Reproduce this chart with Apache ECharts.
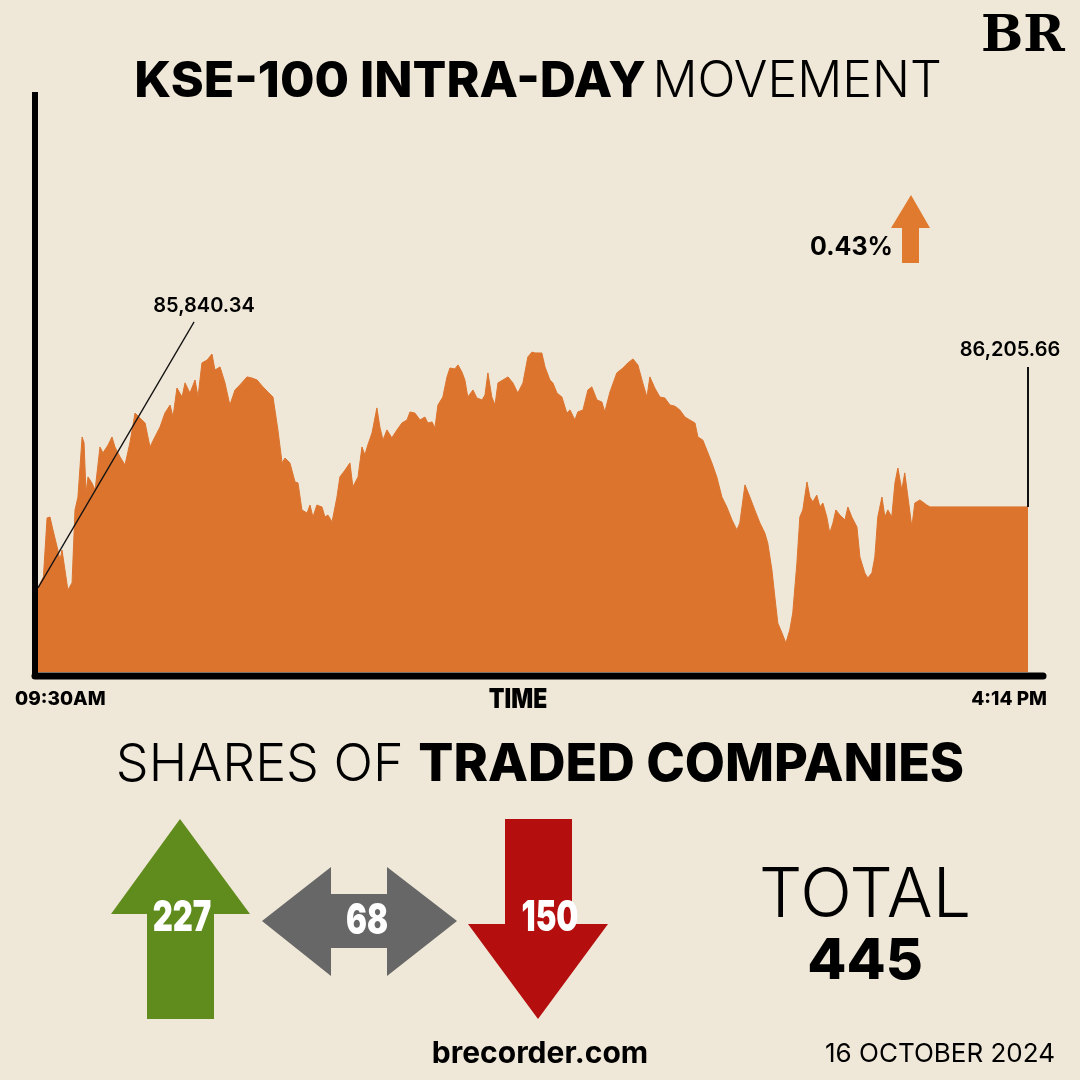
<!DOCTYPE html>
<html><head><meta charset="utf-8">
<script src="https://cdn.jsdelivr.net/npm/echarts@6/dist/echarts.min.js"></script>
<style>html,body{margin:0;padding:0;background:#efe7d7;}#c{width:1080px;height:1080px;}</style>
</head><body><div id="c"></div>
<script>
// minutes since 09:30 open
const times = [0,2.2,3.7,4.9,6.1,7.8,9.0,9.8,11.0,12.2,13.9,15.1,16.3,18.0,18.8,19.6,20.4,22.0,23.3,25.3,26.5,28.6,30.2,31.4,33.5,35.5,37.5,39.6,41.6,43.7,45.7,47.7,49.8,51.8,53.9,55.1,56.7,58.8,60.0,62.0,64.1,65.3,66.9,69.0,71.0,72.2,74.3,76.3,78.3,80.4,82.4,85.3,87.3,89.4,91.8,93.8,95.9,97.9,99.6,100.8,102.8,104.9,106.1,107.7,109.8,111.0,112.2,113.8,115.9,117.1,118.3,120.0,122.0,123.2,125.3,127.3,128.5,130.6,132.2,133.4,134.6,136.3,138.3,139.5,140.8,142.4,144.4,146.5,148.5,150.6,151.8,153.8,155.9,157.9,159.1,160.8,162.0,163.2,165.2,166.9,168.1,170.1,171.4,173.0,174.2,175.4,177.5,179.1,181.2,182.4,183.6,185.2,186.5,187.7,189.7,191.8,193.8,195.8,197.9,199.9,201.6,202.8,205.6,206.9,208.9,210.1,211.8,213.8,215.8,217.1,219.1,220.3,222.4,224.4,226.0,228.1,230.1,231.3,233.4,236.2,238.7,240.7,242.8,244.8,246.8,248.5,249.7,251.7,253.8,255.8,257.9,259.9,261.9,264.0,266.0,268.1,269.3,271.3,273.4,275.0,277.0,279.1,281.1,283.2,285.2,286.4,288.5,290.5,292.5,294.6,296.6,297.8,299.5,300.7,301.9,303.6,305.2,306.8,308.0,309.7,310.9,312.1,313.8,315.0,316.2,317.8,319.1,320.3,321.9,323.1,324.4,325.6,327.2,329.3,330.5,332.1,334.2,335.4,337.4,338.6,340.3,341.5,342.7,344.4,345.6,346.8,348.4,349.7,350.9,352.5,353.7,355.0,356.6,357.8,359.9,362.7,364.0,404];
// KSE-100 index level
const index = [85840.34,85890,86156,86160,86102,86025,85966,86011,85921,85831,85863,86192,86250,86521,86494,86268,86341,86314,86282,86476,86449,86485,86521,86476,86431,86395,86494,86629,86607,86584,86476,86521,86566,86629,86665,86611,86742,86701,86765,86719,86778,86701,86855,86868,86895,86823,86837,86765,86665,86733,86756,86792,86787,86778,86747,86724,86701,86553,86404,86426,86404,86318,86314,86192,86178,86214,86160,86214,86205,86160,86169,86138,86250,86341,86372,86404,86296,86341,86476,86440,86485,86539,86652,86566,86507,86553,86517,86553,86584,86598,86634,86629,86598,86611,86584,86589,86562,86665,86701,86792,86832,86828,86846,86814,86778,86701,86733,86697,86688,86710,86810,86701,86665,86765,86778,86792,86765,86719,86765,86882,86904,86900,86900,86837,86778,86765,86719,86701,86629,86643,86598,86634,86643,86733,86747,86688,86679,86634,86724,86810,86832,86855,86873,86846,86765,86701,86792,86742,86701,86697,86665,86660,86643,86611,86598,86584,86521,86507,86449,86404,86341,86250,86205,86147,86102,86133,86305,86250,86192,86133,86088,86043,85921,85799,85682,85637,85592,85651,85727,85953,86160,86192,86318,86250,86228,86259,86205,86223,86160,86088,86133,86192,86169,86147,86205,86160,86115,85980,85908,85885,85908,85980,86160,86250,86160,86192,86160,86314,86381,86282,86359,86250,86115,86223,86237,86214,86205.66,86205.66];
const openLabel = '85,840.34';
const closeLabel = '86,205.66';
const changeLabel = '0.43%';
const timeLabels = ['09:30AM', '4:14 PM'];
const breadthLabels = ['227', '68', '150'];
const totalLabel = '445';
const dateLabel = '16 OCTOBER 2024';

const seriesData = times.map((t, i) => [t, index[i]]);
const lastT = times[times.length - 1];
const lastV = index[index.length - 1];

const chart = echarts.init(document.getElementById('c'), null, {renderer: 'canvas'});
const F = 'Inter, "Open Sans", sans-serif';

function numText(x, y, s) {
  return {type: 'text', x: x, y: y, scaleX: 0.74, style: {text: s, font: '900 42px Inter, sans-serif', fill: '#fff', textAlign: 'center', textVerticalAlign: 'middle'}};
}

chart.setOption({
  backgroundColor: '#efe7d7',
  animation: false,
  grid: {left: 38, right: 52, top: 92, bottom: 408},
  xAxis: {type: 'value', min: 0, max: 404, show: false},
  yAxis: {type: 'value', min: 85461, max: 88077, show: false},
  series: [{
    type: 'line',
    data: seriesData,
    symbol: 'none',
    lineStyle: {width: 1, color: '#dc742e'},
    areaStyle: {color: '#dc742e', opacity: 1, origin: 'start'},
    markLine: {
      silent: true,
      symbol: 'none',
      label: {show: false},
      data: [
        [{coord: [0, index[0]], lineStyle: {color: '#111', width: 1.3, type: 'solid'}},
         {coord: [63.7, 87040]}],
        [{coord: [lastT, lastV], lineStyle: {color: '#111', width: 2, type: 'solid'}},
         {coord: [lastT, 86837]}]
      ]
    }
  }],
  graphic: [
    // axes
    {type: 'line', shape: {x1: 35, y1: 92, x2: 35, y2: 676}, style: {stroke: '#000', lineWidth: 6}, z: 10},
    {type: 'line', shape: {x1: 35, y1: 676, x2: 1043, y2: 676}, style: {stroke: '#000', lineWidth: 7, lineCap: 'round'}, z: 10},
    // logo
    {type: 'text', x: 1023, y: 38, style: {text: 'BR', font: 'bold 50px "DejaVu Serif", "Liberation Serif", serif', fill: '#000', textAlign: 'center', textVerticalAlign: 'middle'}},
    // title
    {type: 'text', x: 538, y: 82, style: {
      text: '{b|KSE-100 INTRA-DAY}  {l|MOVEMENT}', textAlign: 'center', textVerticalAlign: 'middle',
      rich: {b: {font: '800 50px ' + F, fill: '#000'}, l: {font: '300 50px ' + F, fill: '#000'}}
    }},
    // labels
    {type: 'text', x: 204, y: 306, style: {text: openLabel, font: '600 20px ' + F, fill: '#000', textAlign: 'center', textVerticalAlign: 'middle'}},
    {type: 'text', x: 1010, y: 350, style: {text: closeLabel, font: '600 20px ' + F, fill: '#000', textAlign: 'center', textVerticalAlign: 'middle'}},
    {type: 'text', x: 893, y: 247, style: {text: changeLabel, font: '700 25px ' + F, fill: '#000', textAlign: 'right', textVerticalAlign: 'middle'}},
    {type: 'polygon', shape: {points: [[911,195],[930,228],[919,228],[919,263],[902,263],[902,228],[891,228]]}, style: {fill: '#e07a2e'}},
    {type: 'text', x: 15, y: 699, style: {text: timeLabels[0], font: '800 19px ' + F, fill: '#000', textAlign: 'left', textVerticalAlign: 'middle'}},
    {type: 'text', x: 518, y: 700, scaleX: 0.85, style: {text: 'TIME', font: '900 27px ' + F, fill: '#000', textAlign: 'center', textVerticalAlign: 'middle'}},
    {type: 'text', x: 1047, y: 699, style: {text: timeLabels[1], font: '800 19px ' + F, fill: '#000', textAlign: 'right', textVerticalAlign: 'middle'}},
    // section title
    {type: 'text', x: 540, y: 765, style: {
      text: '{l|SHARES OF }{b|TRADED COMPANIES}', textAlign: 'center', textVerticalAlign: 'middle',
      rich: {b: {font: '800 52px ' + F, fill: '#000'}, l: {font: '300 52px ' + F, fill: '#000'}}
    }},
    // arrows
    {type: 'polygon', shape: {points: [[180,819],[250,914],[214,914],[214,1019],[147,1019],[147,914],[111,914]]}, style: {fill: '#608b1d'}},
    {type: 'polygon', shape: {points: [[262,921],[331,867],[331,894],[387,894],[387,867],[457,921],[387,976],[387,948],[331,948],[331,976]]}, style: {fill: '#676767'}},
    {type: 'polygon', shape: {points: [[505,819],[572,819],[572,924],[608,924],[538,1019],[468,924],[505,924]]}, style: {fill: '#b40e0e'}},
    numText(182, 918, breadthLabels[0]),
    numText(367, 921, breadthLabels[1]),
    numText(550, 918, breadthLabels[2]),
    // total
    {type: 'text', x: 865, y: 897, style: {text: 'TOTAL', font: '300 68px ' + F, fill: '#000', textAlign: 'center', textVerticalAlign: 'middle'}},
    {type: 'text', x: 865, y: 962, style: {text: totalLabel, font: '800 57px ' + F, fill: '#000', textAlign: 'center', textVerticalAlign: 'middle'}},
    // footer
    {type: 'text', x: 540, y: 1054, style: {text: 'brecorder.com', font: '700 30px ' + F, fill: '#000', textAlign: 'center', textVerticalAlign: 'middle'}},
    {type: 'text', x: 1055, y: 1054, style: {text: dateLabel, font: '400 26px ' + F, fill: '#000', textAlign: 'right', textVerticalAlign: 'middle'}}
  ]
});
</script></body></html>
